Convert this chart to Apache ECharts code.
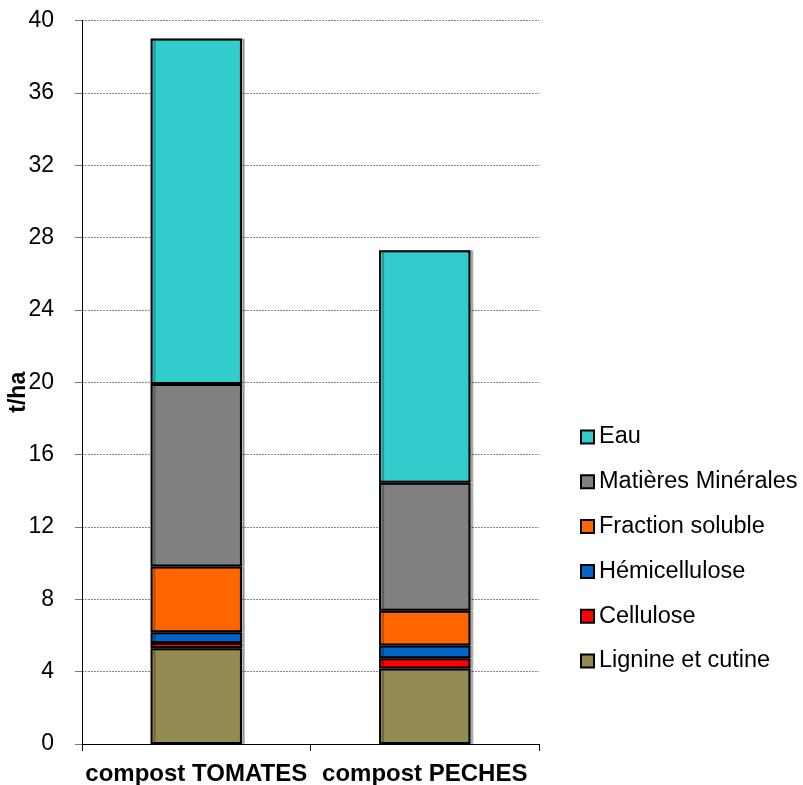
<!DOCTYPE html>
<html>
<head>
    <meta charset="utf-8">
    <title>Compost t/ha</title>
    <script src="https://cdn.jsdelivr.net/npm/echarts@6/dist/echarts.min.js"></script>
</head>
<body style="margin:0">
    <div id="main" style="width: 803px;height:785px;"></div>
    <script type="text/javascript">
var categories = ['compost TOMATES', 'compost PECHES'];
var yTicks = [0, 4, 8, 12, 16, 20, 24, 28, 32, 36, 40];

// bottom to top
var lignine = [5.3, 4.18];
var cellulose = [0.28, 0.56];
var hemicellulose = [0.6, 0.71];
var fractionSoluble = [3.63, 1.92];
var matieresMinerales = [10.1, 7.08];
var eau = [19.1, 12.85];

var seriesNames = ['Lignine et cutine', 'Cellulose', 'Hémicellulose', 'Fraction soluble', 'Matières Minérales', 'Eau'];
var seriesData = [lignine, cellulose, hemicellulose, fractionSoluble, matieresMinerales, eau];
var colors = ['#948A54', '#FF0000', '#0066CC', '#FF6600', '#808080', '#33CCCC'];

var myChart = echarts.init(document.getElementById('main'));

var series = seriesNames.map(function (name, i) {
    return {
        name: name,
        type: 'bar',
        stack: 'total',
        barWidth: '40%',
        data: seriesData[i],
        itemStyle: {
            color: colors[i],
            borderColor: '#000',
            borderWidth: 2,
            shadowColor: 'rgba(0,0,0,0.25)',
            shadowOffsetX: 3,
            shadowOffsetY: 0,
            shadowBlur: 0
        },
        emphasis: { disabled: true }
    };
});

var option = {
    animation: false,
    textStyle: { fontFamily: 'Liberation Sans, Arial, sans-serif' },
    grid: { left: 82, right: 264, top: 20.5, bottom: 41, containLabel: false, outerBoundsMode: 'none' },
    legend: {
        orient: 'vertical',
        left: 580,
        top: 425,
        padding: 0,
        data: seriesNames.slice().reverse(),
        itemWidth: 13,
        itemHeight: 13,
        itemGap: 20.8,
        icon: 'rect',
        textStyle: { fontSize: 23.5, color: '#000', lineHeight: 24 }
    },
    xAxis: {
        type: 'category',
        data: categories,
        axisLine: { lineStyle: { color: '#000', width: 1 } },
        axisTick: { show: true, length: 7, lineStyle: { color: '#000' } },
        axisLabel: { fontSize: 24, fontWeight: 'bold', color: '#000', margin: 18, interval: 0 }
    },
    yAxis: {
        type: 'value',
        min: 0,
        max: yTicks[yTicks.length - 1],
        interval: 4,
        name: 't/ha',
        nameLocation: 'middle',
        nameRotate: 90,
        nameGap: 52,
        nameMoveOverlap: false,
        nameTextStyle: { fontSize: 23, fontWeight: 'bold', color: '#000', padding: [0, 20, 0, 0] },
        axisLine: { show: true, lineStyle: { color: '#000', width: 1 } },
        axisTick: { show: true, length: 7, lineStyle: { color: '#777' } },
        axisLabel: { fontSize: 23, color: '#000', margin: 28 },
        splitLine: { show: true, lineStyle: { color: '#888', type: [2, 1], width: 1 } }
    },
    series: series
};

myChart.setOption(option);
    </script>
</body>
</html>
